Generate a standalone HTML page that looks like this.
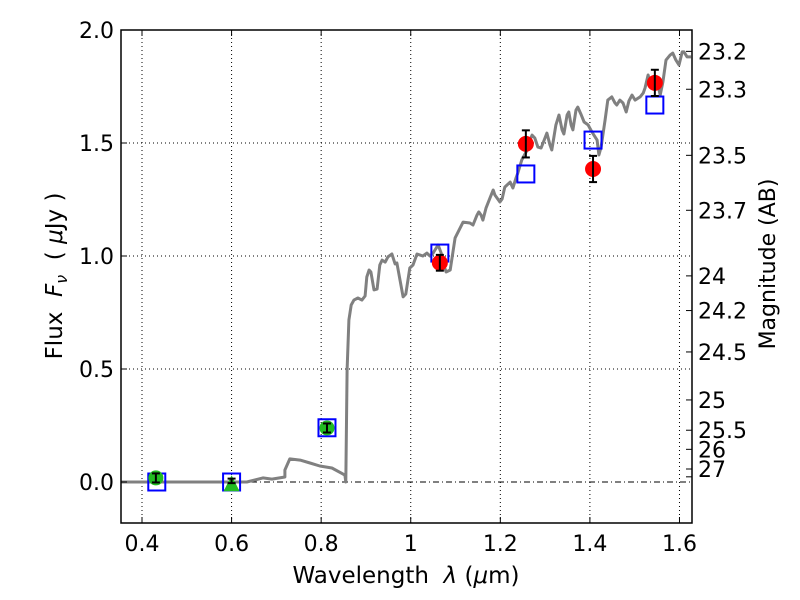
<!DOCTYPE html>
<html><head><meta charset="utf-8"><style>
body{margin:0;background:#fff;}
svg{display:block;font-family:"DejaVu Sans","Liberation Sans",sans-serif;}
</style></head><body>
<svg id="chart" width="800" height="600"></svg>
<script>
const specLam=[0.353,0.634,0.652,0.670,0.690,0.719,0.719,0.730,0.753,0.775,0.797,0.824,0.849,0.853,0.855,0.858,0.862,0.867,0.873,0.882,0.891,0.898,0.902,0.907,0.911,0.918,0.925,0.931,0.936,0.943,0.949,0.958,0.965,0.969,0.976,0.983,0.989,0.998,1.005,1.014,1.021,1.027,1.036,1.043,1.050,1.061,1.068,1.072,1.079,1.088,1.099,1.117,1.132,1.139,1.148,1.152,1.157,1.161,1.168,1.177,1.184,1.188,1.199,1.204,1.210,1.222,1.228,1.235,1.239,1.248,1.260,1.266,1.271,1.277,1.284,1.291,1.298,1.304,1.311,1.315,1.324,1.331,1.338,1.342,1.349,1.353,1.358,1.362,1.369,1.373,1.380,1.387,1.396,1.402,1.409,1.416,1.420,1.425,1.434,1.440,1.449,1.456,1.460,1.467,1.474,1.481,1.487,1.494,1.501,1.512,1.519,1.523,1.530,1.536,1.541,1.548,1.557,1.563,1.570,1.579,1.585,1.592,1.599,1.606,1.610,1.617,1.626];
const specFlux=[0,0,0.009,0.018,0.013,0.022,0.053,0.102,0.097,0.084,0.071,0.062,0.035,0.031,0.000,0.496,0.717,0.783,0.805,0.814,0.805,0.823,0.907,0.938,0.929,0.850,0.854,0.960,0.982,0.973,0.996,1.009,0.965,0.969,0.894,0.819,0.832,0.947,0.960,1.009,1.004,1.000,1.013,1.000,1.013,1.049,1.013,0.969,0.929,0.938,1.080,1.150,1.146,1.137,1.181,1.195,1.181,1.159,1.212,1.257,1.292,1.270,1.239,1.252,1.305,1.327,1.301,1.345,1.367,1.425,1.469,1.513,1.535,1.522,1.482,1.478,1.513,1.544,1.491,1.469,1.580,1.624,1.558,1.540,1.624,1.637,1.580,1.558,1.646,1.659,1.628,1.593,1.580,1.558,1.535,1.513,1.447,1.482,1.602,1.690,1.704,1.677,1.668,1.690,1.677,1.637,1.686,1.712,1.690,1.704,1.721,1.743,1.801,1.757,1.788,1.792,1.712,1.770,1.867,1.889,1.898,1.867,1.845,1.903,1.903,1.881,1.881];
const photLam=[1.065,1.257,1.407,1.545];
const photFlux=[0.97,1.496,1.385,1.766];
const photErr=[0.035,0.06,0.058,0.058];
const greenLam=[0.431,0.813];
const greenFlux=[0.018,0.239];
const greenErr=[0.02,0.02];
const triLam=[0.6];
const triFlux=[-0.01];
const triErr=[0.01];
const modelLam=[0.433,0.6,0.813,1.065,1.257,1.407,1.545];
const modelFlux=[0.0,0.0,0.24,1.013,1.363,1.513,1.668];
const xTicks=[0.4,0.6,0.8,1.0,1.2,1.4,1.6];
const xTickLabels=["0.4","0.6","0.8","1","1.2","1.4","1.6"];
const yTicks=[0,0.5,1.0,1.5,2.0];
const yTickLabels=["0.0","0.5","1.0","1.5","2.0"];
const magTicks=[23.2,23.3,23.5,23.7,24,24.2,24.5,25,25.5,26,27,28];
const magLabels=["23.2","23.3","23.5","23.7","24","24.2","24.5","25","25.5","26","27",""];

const L=121,R=692,T=30,B=523;
const X=v=>142+(v-0.4)*447.9;
const Y=v=>482-v*226;
const NS="http://www.w3.org/2000/svg";
const svg=document.getElementById('chart');
function mk(tag,at,parent){const e=document.createElementNS(NS,tag);for(const k in at)e.setAttribute(k,at[k]);(parent||svg).appendChild(e);return e;}

xTicks.forEach(v=>{const g=mk('line',{x1:X(v),x2:X(v),y1:T,y2:B,stroke:'#000','stroke-width':1,'stroke-dasharray':'1,3'});

});
yTicks.forEach(v=>{if(v===0)return;const g=mk('line',{x1:L,x2:R,y1:Y(v),y2:Y(v),stroke:'#000','stroke-width':1,'stroke-dasharray':'1,3'});

});
const zl=mk('line',{x1:L,x2:R,y1:Y(0),y2:Y(0),stroke:'#000','stroke-width':1,'stroke-dasharray':'6,3,1,3'});



let d='';specLam.forEach((l,i)=>{d+=(i?'L':'M')+X(l).toFixed(1)+','+Y(specFlux[i]).toFixed(1);});
const sp=mk('path',{d:d,fill:'none',stroke:'#808080','stroke-width':3,'stroke-linejoin':'round'});



modelLam.forEach((l,i)=>{const s=mk('rect',{x:X(l)-8.5,y:Y(modelFlux[i])-8.5,width:17,height:17,fill:'none',stroke:'#0000ff','stroke-width':2});

});

function errbar(x,y,e){const g=mk('g',{});


mk('line',{x1:x,x2:x,y1:Y(y-e),y2:Y(y+e),stroke:'#000','stroke-width':2},g);
mk('line',{x1:x-4,x2:x+4,y1:Y(y-e),y2:Y(y-e),stroke:'#000','stroke-width':2},g);
mk('line',{x1:x-4,x2:x+4,y1:Y(y+e),y2:Y(y+e),stroke:'#000','stroke-width':2},g);}

greenLam.forEach((l,i)=>{const c=mk('circle',{cx:X(l),cy:Y(greenFlux[i]),r:7.5,fill:'#22bb22'});


errbar(X(l),greenFlux[i],greenErr[i]);});
triLam.forEach((l,i)=>{const x=X(l),y=Y(triFlux[i]);const t=mk('polygon',{points:`${x},${y-9} ${x-8},${y+7} ${x+8},${y+7}`,fill:'#22bb22'});


errbar(x,triFlux[i]+0.015,triErr[i]);});
photLam.forEach((l,i)=>{const c=mk('circle',{cx:X(l),cy:Y(photFlux[i]),r:8,fill:'#ff0000'});


errbar(X(l),photFlux[i],photErr[i]);});

const fr=mk('rect',{x:L,y:T,width:R-L,height:B-T,fill:'none',stroke:'#000','stroke-width':1.5});



xTicks.forEach((v,i)=>{mk('line',{x1:X(v),x2:X(v),y1:B,y2:B-6,stroke:'#000'});mk('line',{x1:X(v),x2:X(v),y1:T,y2:T+6,stroke:'#000'});
const t=mk('text',{x:X(v),y:B+28,'text-anchor':'middle','font-size':22});t.textContent=xTickLabels[i];

});
yTicks.forEach((v,i)=>{mk('line',{x1:L,x2:L+6,y1:Y(v),y2:Y(v),stroke:'#000'});
const t=mk('text',{x:L-7,y:Y(v)+8,'text-anchor':'end','font-size':22});t.textContent=yTickLabels[i];

});
magTicks.forEach((m,i)=>{const f=Math.pow(10,(23.9-m)/2.5);const y=Y(f);mk('line',{x1:R,x2:R-6,y1:y,y2:y,stroke:'#000'});
if(magLabels[i]){const t=mk('text',{x:R+6,y:y+8,'font-size':22});t.textContent=magLabels[i];

}});
</script>
<svg style="position:absolute;left:0;top:0" width="800" height="600">
<text x="406" y="583" text-anchor="middle" font-size="23" font-family="DejaVu Sans,sans-serif" xml:space="preserve">Wavelength  <tspan font-style="italic">λ</tspan> (<tspan font-style="italic">μ</tspan>m)</text>
<text transform="translate(62,276) rotate(-90)" text-anchor="middle" font-size="23" font-family="DejaVu Sans,sans-serif" xml:space="preserve">Flux  <tspan font-style="italic">F</tspan><tspan font-style="italic" font-size="16" dy="5">ν</tspan><tspan dy="-5">  ( </tspan><tspan font-style="italic">μ</tspan>Jy )</text>
<text transform="translate(775,264) rotate(-90)" text-anchor="middle" font-size="22" font-family="DejaVu Sans,sans-serif">Magnitude (AB)</text>
</svg>
</body></html>
